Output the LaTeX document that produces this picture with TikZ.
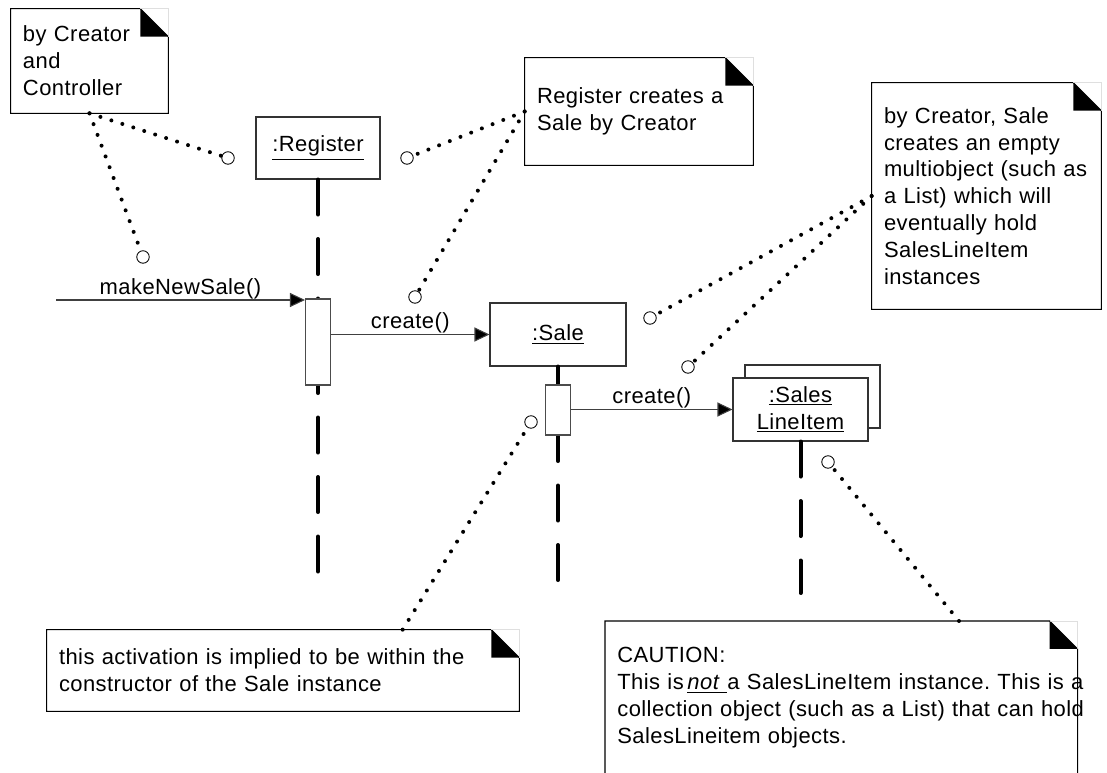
\documentclass[tikz,border=0pt]{standalone}
\usepackage{fontspec}
\setmainfont{Liberation Sans}[LetterSpace=2.0]
\usetikzlibrary{arrows.meta}
\frenchspacing

\newcommand{\notefold}{0.56cm}
\newcommand{\drawnote}[1]{%
  \draw[black,line width=0.6pt] (#1.north west) -- ([xshift=-\notefold]#1.north east) -- ([yshift=-\notefold]#1.north east) -- (#1.south east) -- (#1.south west) -- cycle;
  \draw[gray!25,line width=0.5pt] ([xshift=-\notefold]#1.north east) -- (#1.north east) -- ([yshift=-\notefold]#1.north east);
  \fill ([xshift=-\notefold]#1.north east) -- ([xshift=-\notefold,yshift=-\notefold]#1.north east) -- ([yshift=-\notefold]#1.north east) -- cycle;
}

\tikzset{
  notebox/.style={inner xsep=0.24cm,align=left},
  objbox/.style={draw=black!80,line width=0.6pt,fill=white,minimum height=1.26cm,align=center},
  actbox/.style={draw=black!70,line width=0.6pt,fill=white,minimum width=0.5cm},
  lifeline/.style={line width=0.08cm,line cap=round,dash pattern=on 0.70cm off 0.49cm},
  msg/.style={draw=black!75,line width=0.6pt,-{Triangle[length=0.3cm,width=0.28cm,fill=black]}},
  msglabel/.style={above,inner sep=0.5pt},
  anchorpt/.style={circle,draw,line width=0.5pt,minimum size=0.25cm,inner sep=0pt,fill=white},
  notelink/.style={line width=0.08cm,line cap=round,dash pattern=on 0pt off 0.23cm}
}

\begin{document}
\begin{tikzpicture}[x=1cm,y=1cm,font=\fontsize{12.5}{15.3}\selectfont,>=latex]
  \useasboundingbox (0,0) rectangle (22.14,15.44);

  % notes
  \node[notebox,text width=2.66cm,minimum height=2.08cm] (noteA) at (1.79,14.22) {by Creator\\and\\Controller};
  \node[notebox,text width=4.08cm,minimum height=2.14cm] (noteB) at (12.78,13.21) {Register creates a\\Sale by Creator};
  \node[notebox,text width=4.10cm,minimum height=4.52cm] (noteC) at (19.73,11.52) {by Creator, Sale\\creates an empty\\\mbox{multiobject (such as}\\a List) which will\\eventually hold\\SalesLineItem\\instances};
  \node[notebox,text width=8.96cm,minimum height=1.62cm] (noteD) at (5.66,2.03) {this activation is implied to be within the\\constructor of the Sale instance};
  \node[notebox,text width=8.96cm,anchor=north west,inner ysep=0.52cm] (noteE) at (12.10,3.02) {CAUTION:\\\mbox{This is\,\underline{\textit{not}\ }a SalesLineItem instance. This is a}\\\mbox{collection object (such as a List) that can hold}\\SalesLineitem objects.\rule[-1cm]{0pt}{0pt}};
  \drawnote{noteA}
  \drawnote{noteB}
  \drawnote{noteC}
  \drawnote{noteD}
  \drawnote{noteE}

  % objects
  \node[objbox,minimum width=2.48cm,minimum height=1.24cm] (reg) at (6.36,12.48) {\underline{:Register}};
  \node[objbox,minimum width=2.72cm] (sale) at (11.16,8.75) {\underline{:Sale}};
  \node[objbox,minimum width=2.70cm] (sliBack) at (16.25,7.51) {};
  \node[objbox,minimum width=2.70cm] (sli) at (16.01,7.25) {\underline{:Sales}\\\underline{LineItem}};

  % lifelines
  \coordinate (regEnd) at (6.36,3.94);
  \coordinate (saleEnd) at (11.16,3.80);
  \coordinate (sliEnd) at (16.01,3.58);
  \draw[lifeline] (reg) -- (regEnd);
  \draw[lifeline] (sale) -- (saleEnd);
  \draw[lifeline] (sli) -- (sliEnd);

  % activations
  \node[actbox,minimum height=1.72cm] (actR) at (6.36,8.60) {};
  \node[actbox,minimum height=1.00cm] (actS) at (11.16,7.24) {};

  % messages
  \coordinate (msgIn) at (1.12,9.44);
  \draw[msg] (msgIn) -- (msgIn -| actR.west) node[msglabel,midway] (lblNew) {makeNewSale()};
  \draw[msg] (sale.west -| actR.east) -- (sale.west) node[msglabel,midway] (lblSale) {create()};
  \draw[msg] (sli.west -| actS.east) -- (sli.west) node[msglabel,midway] (lblSli) {create()};

  % note anchors
  \node[anchorpt] (cA1) at (4.56,12.28) {};
  \node[anchorpt] (cA2) at (2.86,10.30) {};
  \node[anchorpt] (cB1) at (8.14,12.28) {};
  \node[anchorpt] (cB2) at (8.30,9.50) {};
  \node[anchorpt] (cC1) at (13.00,9.08) {};
  \node[anchorpt] (cC2) at (13.76,8.10) {};
  \node[anchorpt] (cD) at (10.62,7.00) {};
  \node[anchorpt] (cE) at (16.56,6.20) {};

  \draw[notelink] (noteA.south) -- (cA1);
  \draw[notelink] (noteA.south) -- (cA2);
  \draw[notelink] (noteB.west) -- (cB1);
  \draw[notelink] (noteB.west) -- (cB2);
  \draw[notelink] (noteC.west) -- (cC1);
  \draw[notelink] (noteC.west) -- (cC2);
  \draw[notelink] ([xshift=7.12cm]noteD.north west) -- (cD);
  \draw[notelink] ([xshift=7.08cm]noteE.north west) -- (cE);
\end{tikzpicture}
\end{document}
